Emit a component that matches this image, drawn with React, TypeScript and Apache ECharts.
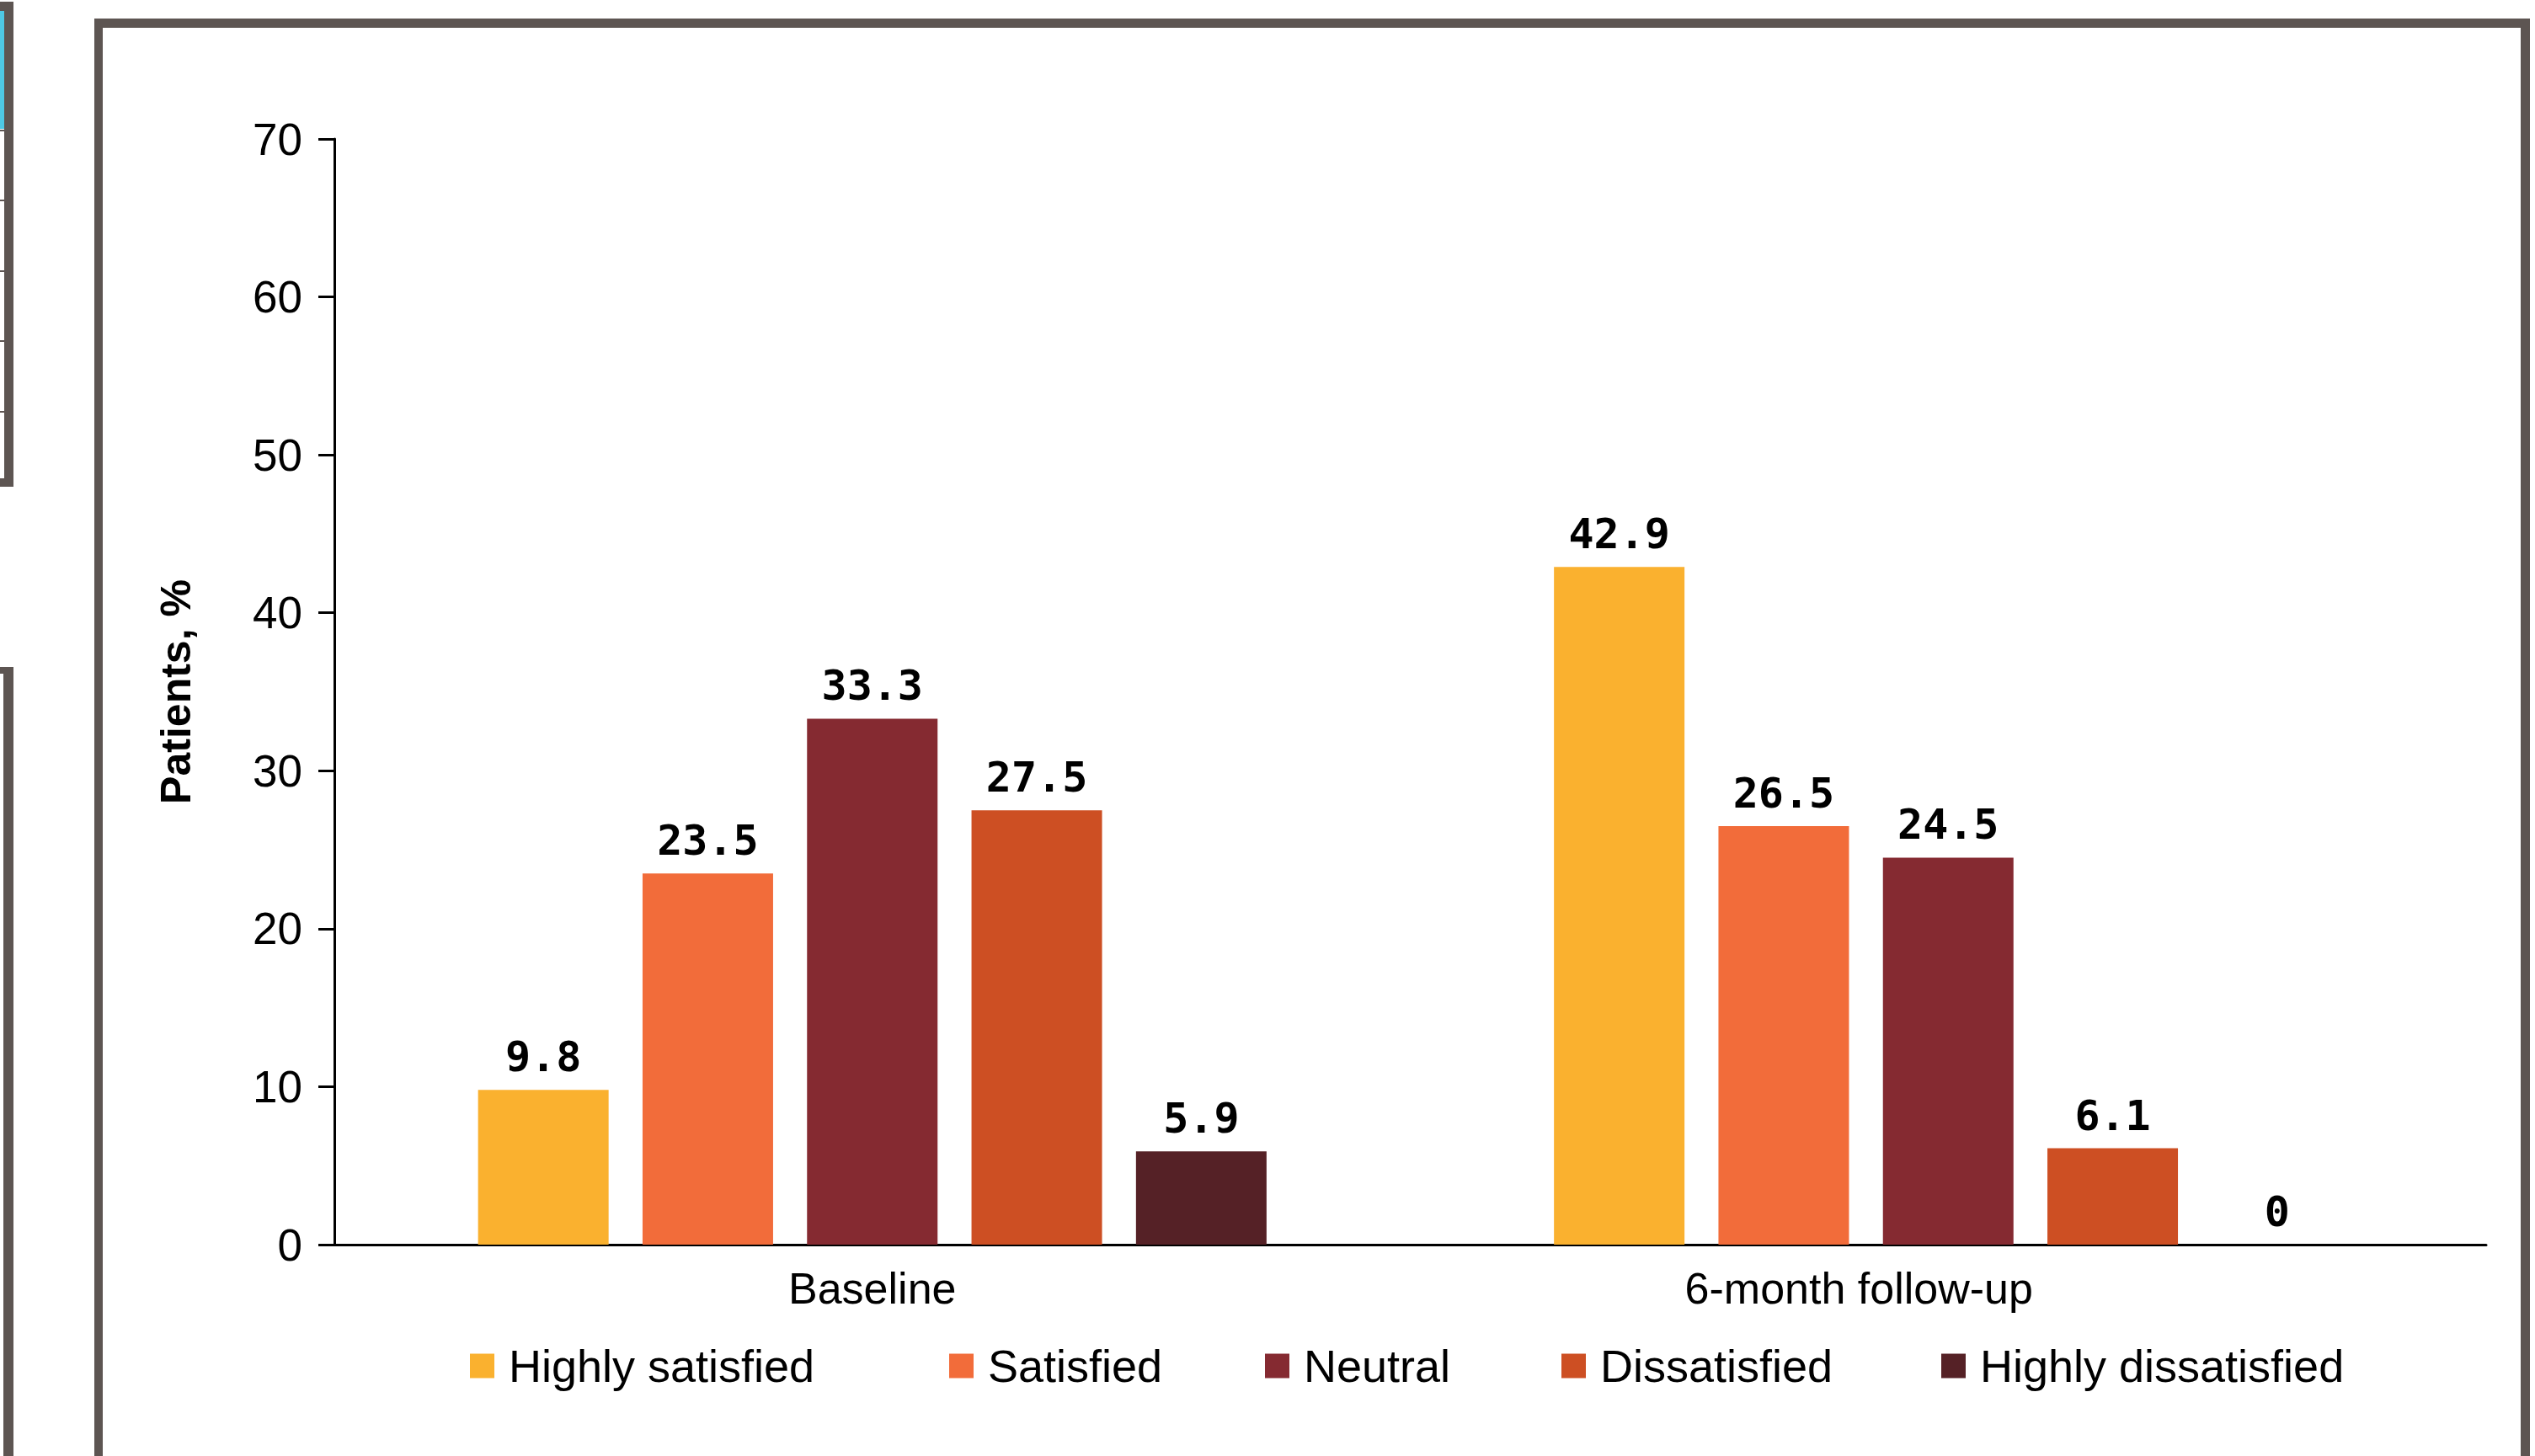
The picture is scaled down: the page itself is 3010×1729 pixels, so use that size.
import React, { useEffect, useRef } from "react";
import * as echarts from "echarts";

const categories = ["Baseline", "6-month follow-up"];
const seriesNames = ["Highly satisfied", "Satisfied", "Neutral", "Dissatisfied", "Highly dissatisfied"];
const highlySatisfied = [9.8, 42.9];
const satisfied = [23.5, 26.5];
const neutral = [33.3, 24.5];
const dissatisfied = [27.5, 6.1];
const highlyDissatisfied = [5.9, 0];
const seriesValues = [highlySatisfied, satisfied, neutral, dissatisfied, highlyDissatisfied];
const seriesColors = ["#FAB12F", "#F26C3A", "#852A31", "#CD4F23", "#552126"];
const legendLefts = [553, 1122, 1497, 1849, 2300];

const FRAME = "#5D5552";
const FONT = "'Liberation Sans', Arial, sans-serif";

export default function App() {
  const ref = useRef<HTMLDivElement>(null);
  useEffect(() => {
    document.body.style.margin = "0";
    if (!ref.current) return;
    const chart = echarts.init(ref.current, null, { renderer: "svg" });
    const option: any = {
      animation: false,
      backgroundColor: "#ffffff",
      grid: { left: 397, right: 58, top: 165, bottom: 251, containLabel: false },
      legend: seriesNames.map((n, i) => ({
        data: [n],
        left: legendLefts[i],
        top: 1590,
        icon: "rect",
        itemWidth: 29,
        itemHeight: 29,
        selectedMode: false,
        textStyle: { fontSize: 54, fontFamily: FONT, color: "#000", padding: [0, 0, 0, 12] },
      })),
      xAxis: {
        type: "category",
        data: categories.map((c, i) =>
          i === 1 ? { value: c, textStyle: { padding: [0, 212, 0, 0] } } : { value: c }
        ),
        axisLine: { show: true, lineStyle: { color: "#000", width: 3 } },
        axisTick: { show: false },
        axisLabel: { fontSize: 52, fontFamily: FONT, color: "#000", margin: 26 },
      },
      yAxis: {
        type: "value",
        min: 0,
        max: 70,
        interval: 10,
        name: "Patients, %",
        nameLocation: "middle",
        nameGap: 163,
        nameTextStyle: { fontSize: 50, fontWeight: "bold", fontFamily: FONT, color: "#000" },
        axisLine: { show: true, lineStyle: { color: "#000", width: 3 } },
        axisTick: { show: true, length: 19, lineStyle: { color: "#000", width: 3 } },
        splitLine: { show: false },
        axisLabel: { fontSize: 53, fontFamily: FONT, color: "#000", margin: 38 },
      },
      series: seriesNames.map((n, i) => ({
        name: n,
        type: "bar",
        data: seriesValues[i],
        barWidth: 155,
        barGap: "26%",
        itemStyle: { color: seriesColors[i] },
        label: {
          show: true,
          position: "top",
          distance: 14,
          fontSize: 50,
          fontWeight: "bold",
          fontFamily: "'DejaVu Sans Mono', monospace",
          color: "#000",
        },
      })),
      graphic: [
        { type: "rect", shape: { x: 112, y: 22, width: 2892, height: 11 }, style: { fill: FRAME } },
        { type: "rect", shape: { x: 112, y: 22, width: 10, height: 1720 }, style: { fill: FRAME } },
        { type: "rect", shape: { x: 2993, y: 22, width: 11, height: 1720 }, style: { fill: FRAME } },
        // left partial panels
        { type: "rect", shape: { x: 0, y: 13, width: 5, height: 140 }, style: { fill: "#4EC8E4" } },
        { type: "rect", shape: { x: 0, y: 2, width: 16, height: 11 }, style: { fill: FRAME } },
        { type: "rect", shape: { x: 5, y: 2, width: 11, height: 576 }, style: { fill: FRAME } },
        { type: "rect", shape: { x: 0, y: 154, width: 5, height: 2 }, style: { fill: FRAME } },
        { type: "rect", shape: { x: 0, y: 237, width: 5, height: 2 }, style: { fill: FRAME } },
        { type: "rect", shape: { x: 0, y: 321, width: 5, height: 2 }, style: { fill: FRAME } },
        { type: "rect", shape: { x: 0, y: 404, width: 5, height: 2 }, style: { fill: FRAME } },
        { type: "rect", shape: { x: 0, y: 488, width: 5, height: 2 }, style: { fill: FRAME } },
        { type: "rect", shape: { x: 0, y: 568, width: 16, height: 10 }, style: { fill: FRAME } },
        { type: "rect", shape: { x: 0, y: 792, width: 16, height: 8 }, style: { fill: FRAME } },
        { type: "rect", shape: { x: 4, y: 792, width: 12, height: 950 }, style: { fill: FRAME } },
      ],
    };
    chart.setOption(option);
    return () => chart.dispose();
  }, []);
  return <div ref={ref} style={{ width: 3010, height: 1729 }} />;
}
